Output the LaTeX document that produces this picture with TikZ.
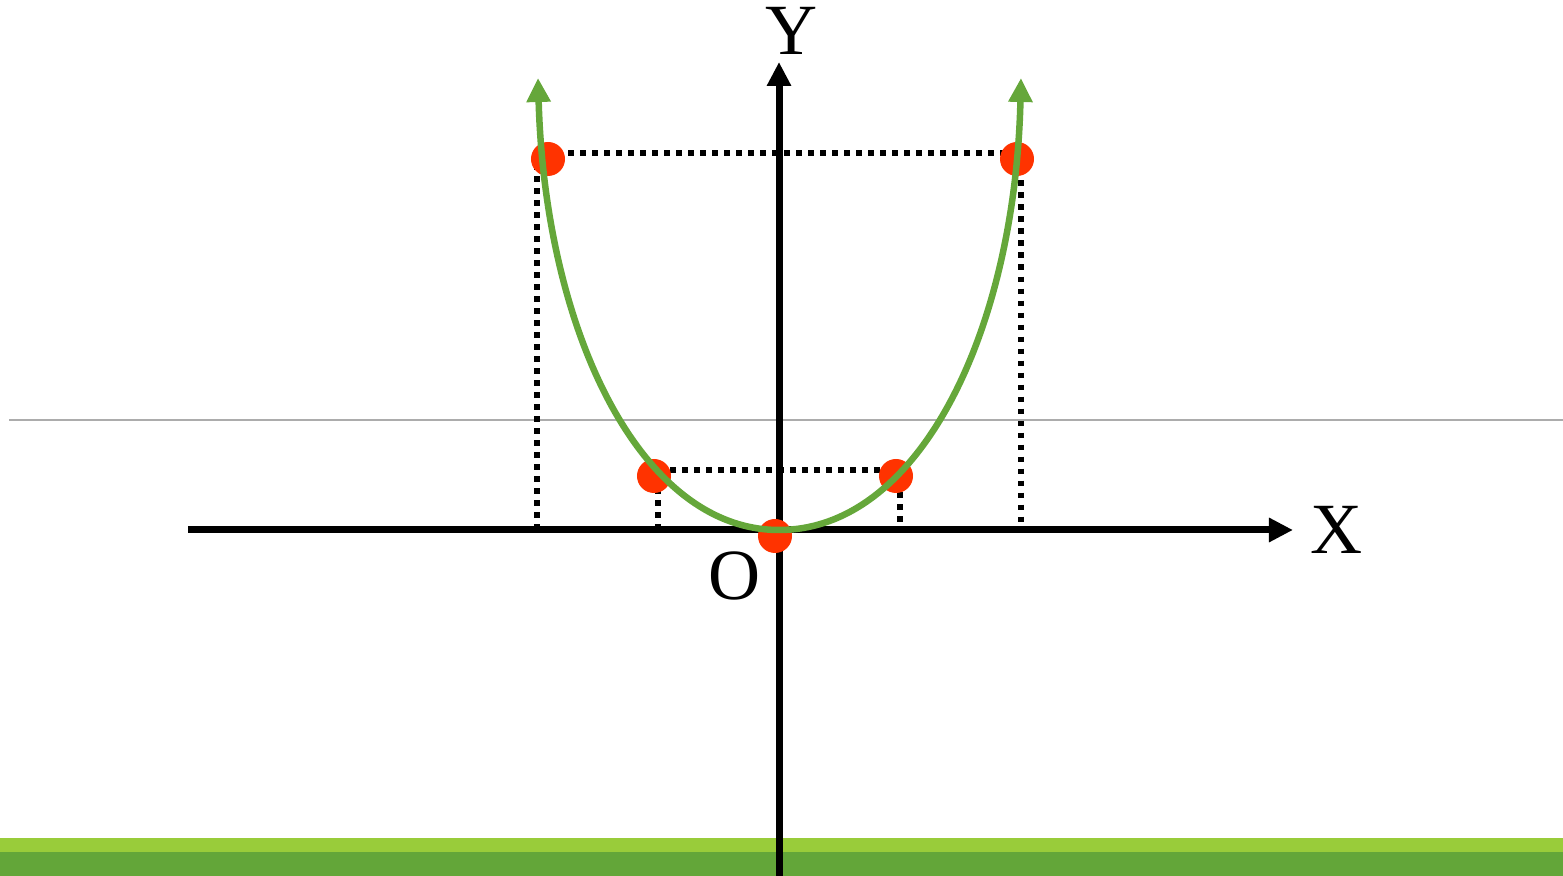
\documentclass[tikz,border=0pt]{standalone}
\usepackage{fontspec}
\setmainfont{Liberation Serif}
\usepackage{xcolor}
\usetikzlibrary{arrows.meta}
\definecolor{ptred}{RGB}{255,51,0}
\definecolor{curvegreen}{RGB}{101,167,58}
\definecolor{barlight}{RGB}{153,204,58}
\definecolor{bardark}{RGB}{99,166,57}

\begin{document}
\begin{tikzpicture}[x=0.01cm,y=0.01cm,>={Triangle[length=0.24cm,width=0.23cm]}]
  \tikzset{
    axis/.style={->,line width=0.07cm,black},
    curve/.style={<->,line width=0.065cm,curvegreen},
    guide/.style={line width=0.058cm,black,dash pattern=on 0.055cm off 0.065cm},
    pt/.style={circle,fill=ptred,inner sep=0pt,minimum size=0.34cm},
    lbl/.style={inner sep=0pt,font=\fontsize{20.5}{24}\selectfont}}
  \useasboundingbox (0,0) rectangle (1563,876);
  % bottom bars and thin rule
  \fill[barlight](0,24) rectangle (1563,38);
  \fill[bardark](0,0) rectangle (1563,24);
  \draw[line width=0.02cm,gray!65](9,456)--(1563,456);
  % axes
  \coordinate (O) at (779,346);
  \coordinate (xl) at (188,346);
  \coordinate (xr) at (1293,346);
  \coordinate (yb) at (779,0);
  \coordinate (yt) at (779,814);
  % guide corners
  \coordinate (a0) at (537,346); \coordinate (a1) at (537,723);
  \coordinate (b0) at (1021,346); \coordinate (b1) at (1021,723);
  \coordinate (c0) at (658,346); \coordinate (c1) at (658,406);
  \coordinate (d0) at (900,346); \coordinate (d1) at (900,406);
  \draw[guide](a0)--(a1)--(b1)--(b0);
  \draw[guide](c0)--(c1)--(d1)--(d0);
  \draw[axis](xl)--(xr);
  \draw[axis](yb)--(yt);
  % points on the curve
  \node[pt] (pA) at (548,717){};
  \node[pt] (pB) at (1017,717){};
  \node[pt] (pC) at (654,400){};
  \node[pt] (pD) at (896,400){};
  \node[pt] (pE) at (775,340){};
  % curve
  \coordinate (cl) at (538,798);
  \coordinate (cr) at (1021,798);
  \draw[curve](cl) .. controls (545,546) and (640,346) .. (O)
    .. controls (920,346) and (1015,546) .. (cr);
  % labels
  \node[lbl] (ylab) at (792,845){Y};
  \node[lbl] (xlab) at (1337,346){X};
  \node[lbl] (olab) at (735,300){O};
\end{tikzpicture}
\end{document}
